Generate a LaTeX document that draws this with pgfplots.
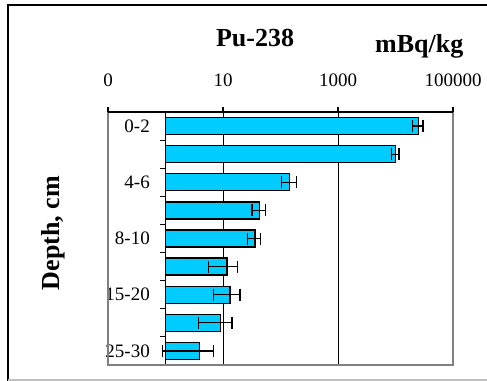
\documentclass[border=0pt]{standalone}
\usepackage{fontspec}
\setmainfont{Liberation Serif}
\usepackage{pgfplots}
\usepackage{pgfplotstable}
\pgfplotsset{compat=1.18}

\definecolor{barcyan}{HTML}{00CCFF}
\definecolor{framegray}{HTML}{808080}
\definecolor{outergray}{HTML}{C0C0C0}

% depth layer index, activity (mBq/kg), uncertainty
\pgfplotstableread{
pos val err
0 25000 5000
1 10000 1500
2 145 42
3 43 11
4 36 9
5 11.8 6.2
6 13.3 6.4
7 9.0 5.3
8 3.9 3.0
}\putable

\begin{document}
\begin{tikzpicture}
\path[use as bounding box] (0bp,0bp) rectangle (487bp,381bp);
% outer chart frame
\draw[black, line width=1.5bp] (8bp,0bp) -- (8bp,376bp) -- (487bp,376bp);
\draw[outergray, line width=1.2bp] (8bp,1bp) -- (487bp,1bp);

\begin{axis}[
  at={(108bp,16bp)}, anchor=south west,
  scale only axis, width=345bp, height=253bp,
  xmode=log, xmin=0.1, xmax=100000,
  ymin=-0.5, ymax=8.5, y dir=reverse,
  axis line style={draw=none},
  tick align=outside,
  xtick={0.1,10,1000,100000},
  xticklabels={0,10,1000,100000},
  xtick pos=upper, xticklabel pos=upper,
  minor xtick={},
  major tick length=5bp,
  x tick style={black, line width=1.2bp},
  xticklabel shift=20bp,
  xticklabel style={font=\fontsize{19bp}{22bp}\selectfont, inner sep=0pt, anchor=south},
  extra x ticks={10,1000},
  extra x tick labels={},
  extra x tick style={grid=major, major grid style={black, line width=1bp}, major tick length=0pt},
  ytick={0,2,4,6,8},
  yticklabels={0-2,4-6,8-10,15-20,25-30},
  y tick style={draw=none},
  yticklabel shift=-47bp,
  yticklabel style={font=\fontsize{19bp}{22bp}\selectfont, inner sep=0pt, anchor=east},
  clip=false,
]
\addplot[xbar, bar width=17bp, fill=barcyan, draw=black, line width=1.3bp,
  error bars/.cd, x dir=both, x explicit,
  error mark=|,
  error bar style={black, line width=1.2bp},
  error mark options={black, line width=1.2bp, mark size=6bp}]
  table[x=val, y=pos, x error=err] {\putable};

% category axis at the log origin, with ticks between layers
\draw[black, line width=1.3bp] (axis cs:1,-0.5) -- (axis cs:1,8.5);
\pgfplotsinvokeforeach{0.5,1.5,2.5,3.5,4.5,5.5,6.5,7.5,8.5}{
  \draw[black, line width=1.2bp] (axis cs:1,#1) -- ++(-6bp,0bp);
}
% plot area border
\draw[framegray, line width=1.5bp] (axis cs:0.1,-0.5) -- (axis cs:0.1,8.5) -- (axis cs:100000,8.5) -- (axis cs:100000,-0.5);
\draw[black, line width=1.3bp] (axis cs:0.1,-0.5) -- (axis cs:100000,-0.5);
\end{axis}

\node[anchor=base, font=\fontsize{26bp}{30bp}\selectfont\bfseries] at (255bp,334bp) {Pu-238};
\node[anchor=base west, inner sep=0pt, font=\fontsize{26bp}{30bp}\selectfont\bfseries] at (375bp,328bp) {mBq/kg};
\node[anchor=base, rotate=90, inner sep=0pt, font=\fontsize{26bp}{30bp}\selectfont\bfseries] at (59bp,148bp) {Depth, cm};
\end{tikzpicture}
\end{document}
